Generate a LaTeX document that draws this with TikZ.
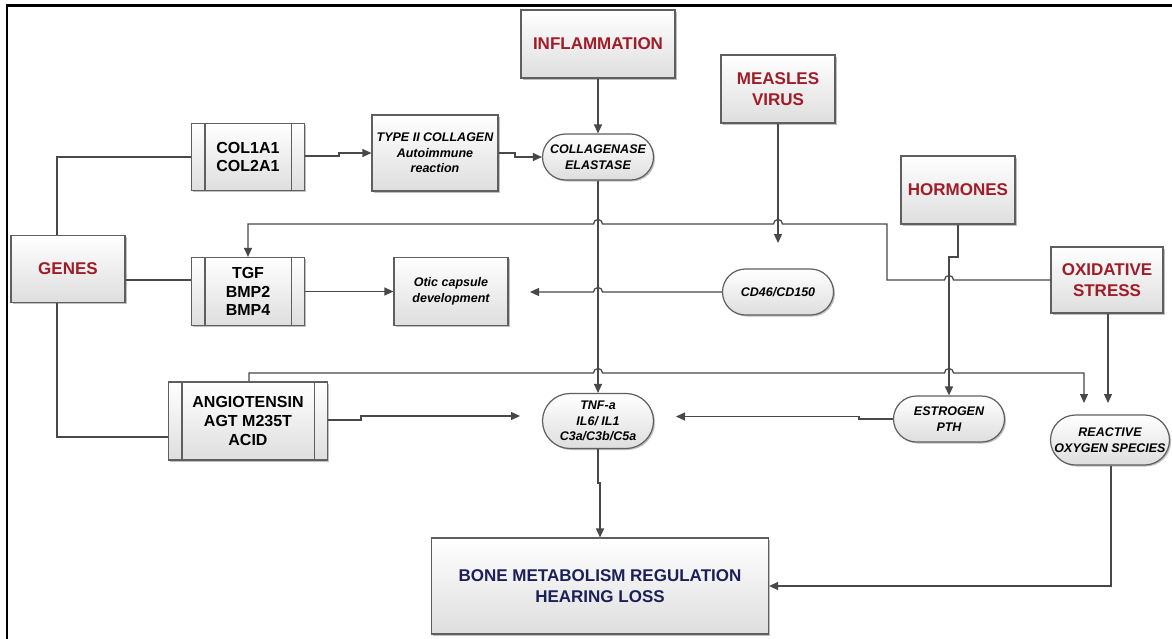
\documentclass[tikz,border=0pt]{standalone}
\usepackage{fontspec}
\setmainfont{Liberation Sans}
\usetikzlibrary{arrows.meta,shapes.misc,shadows}
\definecolor{titlered}{RGB}{160,28,40}
\definecolor{navy}{RGB}{28,32,88}
\definecolor{boxgray}{RGB}{95,95,95}
\definecolor{linegray}{RGB}{72,72,72}
\tikzset{
  base/.style={draw=boxgray, line width=1.2pt, top color=white, bottom color=black!13,
    align=center, inner sep=1pt,
    drop shadow={shadow xshift=1.5pt, shadow yshift=-1.5pt, opacity=0.25, fill=black}},
  titlebox/.style={base, font=\fontsize{17}{21}\selectfont\bfseries, text=titlered},
  procbox/.style={base, font=\fontsize{16}{18.7}\selectfont\bfseries},
  itbox/.style={base, font=\fontsize{12.5}{15.5}\selectfont\bfseries\itshape},
  term/.style={base, rounded rectangle, font=\fontsize{12.5}{15.5}\selectfont\bfseries\itshape},
  bonebox/.style={base, font=\fontsize{17}{21}\selectfont\bfseries, text=navy},
  conn/.style={draw=linegray, line width=1.25pt},
  arr/.style={conn, -{Triangle[length=9pt,width=8pt]}},
  sz/.style n args={2}{minimum width=#1pt, minimum height=#2pt},
}
\newcommand\predlines[1]{%
  \draw[draw=boxgray, line width=1.2pt] ([xshift=14pt]#1.north west) -- ([xshift=14pt]#1.south west)
    ([xshift=-14pt]#1.north east) -- ([xshift=-14pt]#1.south east);}
\begin{document}
\begin{tikzpicture}[x=1pt,y=-1pt]
\useasboundingbox (0,0) rectangle (1172,638);
\fill[white] (0,0) rectangle (1172,638);
\draw[line width=2.8pt] (7,5.5) rectangle (1220,700);

% nodes
\node[titlebox, sz={154}{68}] (infl) at (598,44) {INFLAMMATION};
\node[titlebox, sz={114}{68}] (meas) at (778,89) {MEASLES\\VIRUS};
\node[titlebox, sz={114}{68}] (horm) at (958,190) {HORMONES};
\node[titlebox, sz={112}{66}] (oxi) at (1107,280) {OXIDATIVE\\STRESS};
\node[titlebox, sz={114}{67}] (genes) at (68,269) {GENES};

\node[procbox, sz={113}{67}] (col) at (248,157) {COL1A1\\COL2A1};
\predlines{col}
\node[procbox, sz={113}{68}] (tgf) at (248,291.5) {TGF\\BMP2\\BMP4};
\predlines{tgf}
\node[procbox, sz={159}{78}] (ang) at (248,421) {ANGIOTENSIN\\AGT M235T\\ACID};
\predlines{ang}

\node[itbox, sz={126}{76}] (type) at (435,153) {TYPE II COLLAGEN\\Autoimmune\\reaction};
\node[itbox, sz={114}{68}] (otic) at (451,291.5) {Otic capsule\\development};

\node[term, sz={113}{46}] (coll) at (598,157) {COLLAGENASE\\ELASTASE};
\node[term, sz={113}{46}] (cd) at (778,292) {CD46/CD150};
\node[term, sz={113}{55}] (tnf) at (598,421) {TNF-a\\IL6/ IL1\\C3a/C3b/C5a};
\node[term, sz={113}{46}] (estr) at (949,419) {ESTROGEN\\PTH};
\node[term, sz={121}{50}] (ros) at (1110,440) {REACTIVE\\OXYGEN SPECIES};

\node[bonebox, sz={337}{96}] (bone) at (600,586) {BONE METABOLISM REGULATION\\HEARING LOSS};

% free ends
\coordinate (measend) at (778,243);
\coordinate (cdend) at (530,292);
\coordinate (angend) at (520,416);
\coordinate (estrend) at (676,416.5);
\coordinate (rosA) at (1084,403);
\coordinate (rosB) at (1108,403);

% connectors
\draw[conn] (genes.north -| 57,0) |- (col.west);
\draw[conn] (genes.east |- 0,280) -- (tgf.west |- 0,280);
\draw[conn] (genes.south -| 57,0) |- (ang.west |- 0,437);

\draw[arr] (col.east |- 0,156) -- (339,156) -- (339,153) -- (type.west);
\draw[arr] (type.east) -- (515,153) -- (515,157) -- (coll.west);
\draw[arr] (infl.south) -- (coll.north);
\draw[arr] (meas.south) -- (measend);

\draw[arr] (oxi.west) -- (953.5,280) arc[start angle=0,end angle=180,radius=4.5pt]
  -- (887,280) -- (887,224) -- (782.5,224) arc[start angle=0,end angle=180,radius=4.5pt]
  -- (602.5,224) arc[start angle=0,end angle=180,radius=4.5pt]
  -- (tgf.north |- 0,224) -- (tgf.north);

\draw[arr] (horm.south) -- (958,257) -- (949,257) -- (estr.north);

\draw[arr] (cd.west) -- (602.5,292) arc[start angle=0,end angle=180,radius=4.5pt] -- (cdend);
\draw[arr] (tgf.east) -- (otic.west);

\draw[arr] (ang.north -| 249,0) -- (249,373) -- (593.5,373)
  arc[start angle=180,end angle=0,radius=4.5pt] -- (944.5,373)
  arc[start angle=180,end angle=0,radius=4.5pt] -- (1084,373) -- (rosA);
\draw[arr] (oxi.south -| 1108,0) -- (rosB);

\draw[arr] (ang.east |- 0,420) -- (361,420) -- (361,416) -- (angend);
\draw[arr] (estr.west) -- (859,419) -- (859,416.5) -- (estrend);

\draw[arr] (coll.south) -- (tnf.north);
\draw[arr] (tnf.south) -- (598,483) -- (600,483) -- (bone.north);
\draw[arr] (ros.south -| 1111,0) |- (bone.east);
\end{tikzpicture}
\end{document}
